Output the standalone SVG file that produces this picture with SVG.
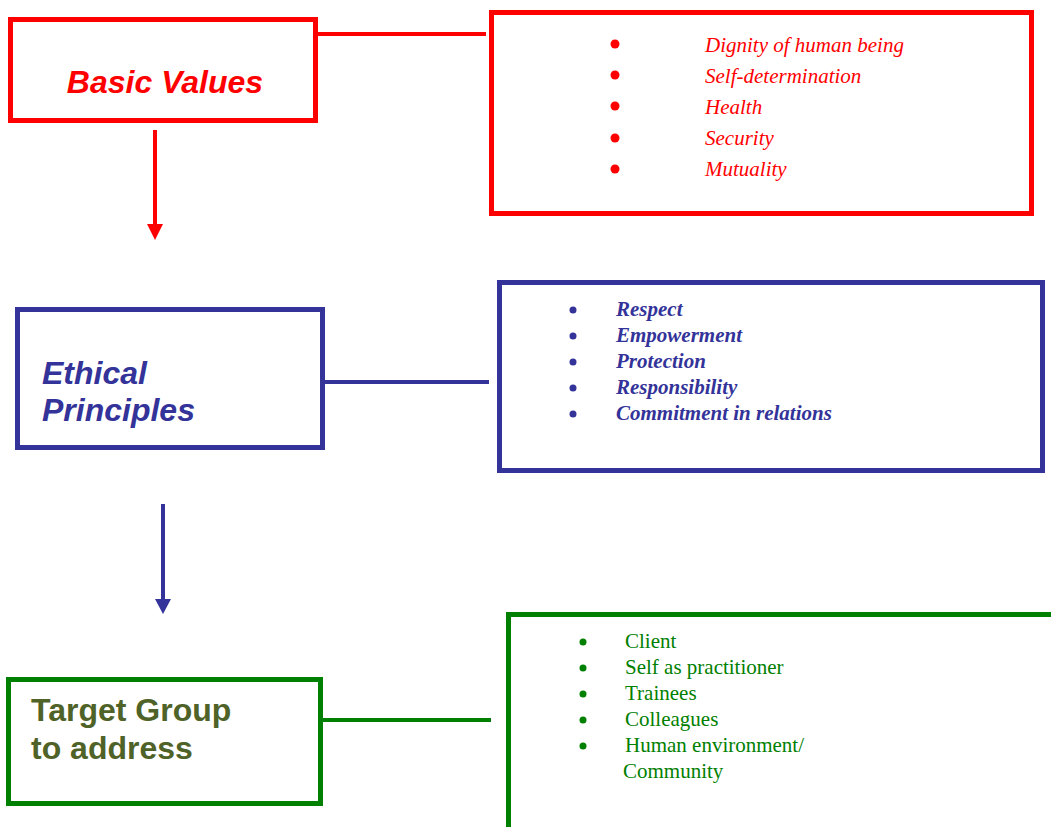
<svg xmlns="http://www.w3.org/2000/svg" width="1051" height="827" viewBox="0 0 1051 827">
<style>
.box{fill:#fff;stroke-width:5}
.red{stroke:#ff0000}
.blue{stroke:#333399}
.green{stroke:#008000}
.title{font-family:"Liberation Sans",Arial,sans-serif;font-weight:bold;font-size:32px}
.list{font-family:"Liberation Serif","Times New Roman",serif;font-size:21px}
</style>
<rect width="1051" height="827" fill="#fff"/>
<g id="connectors">
<line x1="318" y1="34" x2="486" y2="34" stroke="#ff0000" stroke-width="4"/>
<line x1="155" y1="130" x2="155" y2="226" stroke="#ff0000" stroke-width="4"/>
<polygon points="147,224 163,224 155,240" fill="#ff0000"/>
<line x1="325" y1="382" x2="489" y2="382" stroke="#333399" stroke-width="4"/>
<line x1="163" y1="504" x2="163" y2="601" stroke="#333399" stroke-width="4"/>
<polygon points="155,599 171,599 163,614" fill="#333399"/>
<line x1="323" y1="720" x2="491" y2="720" stroke="#008000" stroke-width="4"/>
</g>
<g id="basic-values">
<rect class="box red" x="10.5" y="19.5" width="305" height="101"/>
<text class="title" x="165" y="93" text-anchor="middle" font-style="italic" fill="#ff0000">Basic Values</text>
</g>
<g id="basic-values-list">
<rect class="box red" x="491.5" y="12.5" width="540" height="201"/>
<g fill="#ff0000"><circle cx="615" cy="44" r="4.5"/><circle cx="615" cy="75" r="4.5"/><circle cx="615" cy="106" r="4.5"/><circle cx="615" cy="138" r="4.5"/><circle cx="615" cy="169" r="4.5"/></g>
<g class="list" font-style="italic" fill="#ff0000">
<text x="705" y="52">Dignity of human being</text>
<text x="705" y="83">Self-determination</text>
<text x="705" y="114">Health</text>
<text x="705" y="145">Security</text>
<text x="705" y="176">Mutuality</text>
</g>
</g>
<g id="ethical-principles">
<rect class="box blue" x="17.5" y="309.5" width="305" height="138"/>
<g class="title" font-style="italic" fill="#333399">
<text x="42" y="384">Ethical</text>
<text x="42" y="421">Principles</text>
</g>
</g>
<g id="ethical-principles-list">
<rect class="box blue" x="499.5" y="282.5" width="543" height="188"/>
<g fill="#333399"><circle cx="573" cy="310" r="3.5"/><circle cx="573" cy="336" r="3.5"/><circle cx="573" cy="362" r="3.5"/><circle cx="573" cy="388" r="3.5"/><circle cx="573" cy="414" r="3.5"/></g>
<g class="list" font-style="italic" font-weight="bold" fill="#333399">
<text x="616" y="316">Respect</text>
<text x="616" y="342">Empowerment</text>
<text x="616" y="368">Protection</text>
<text x="616" y="394">Responsibility</text>
<text x="616" y="420">Commitment in relations</text>
</g>
</g>
<g id="target-group">
<rect class="box green" x="8.5" y="679.5" width="312" height="124"/>
<g class="title" fill="#4f6228">
<text x="31" y="721">Target Group</text>
<text x="31" y="759">to address</text>
</g>
</g>
<g id="target-group-list">
<path class="green" d="M508.5,830 V614.5 H1060" fill="none" stroke-width="5"/>
<g fill="#008000"><circle cx="583" cy="642" r="3.5"/><circle cx="583" cy="668" r="3.5"/><circle cx="583" cy="694" r="3.5"/><circle cx="583" cy="720" r="3.5"/><circle cx="583" cy="746" r="3.5"/></g>
<g class="list" fill="#008000">
<text x="625" y="648">Client</text>
<text x="625" y="674">Self as practitioner</text>
<text x="625" y="700">Trainees</text>
<text x="625" y="726">Colleagues</text>
<text x="625" y="752">Human environment/</text>
<text x="623" y="778">Community</text>
</g>
</g>
</svg>
